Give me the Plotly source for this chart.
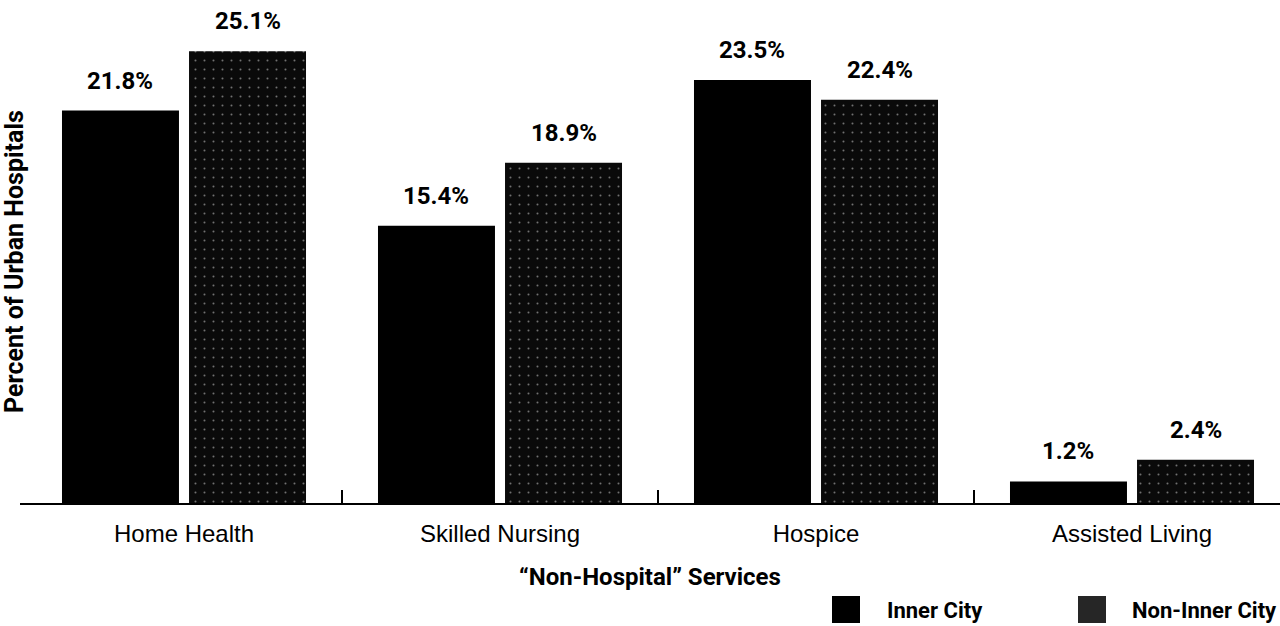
import plotly.graph_objects as go

# Share of urban hospitals offering each "non-hospital" service
categories = ["Home Health", "Skilled Nursing", "Hospice", "Assisted Living"]
inner_city = [21.8, 15.4, 23.5, 1.2]
non_inner_city = [25.1, 18.9, 22.4, 2.4]
series_names = ["Inner City", "Non-Inner City"]

W, H = 1280, 626
M_L, M_R, M_T, M_B = 20, 0, 20, 123
BARGAP = 0.196
BARGROUPGAP = 0.079

COND = "Roboto, Liberation Sans, sans-serif"
REGULAR = "Liberation Sans, Arial, Helvetica, sans-serif"


def cond_bold(size):
    return dict(family=COND, size=size, color="black", weight="bold")


x_idx = list(range(len(categories)))
slot = (1 - BARGAP) / 2          # width of one series slot, in category units
half = slot / 2                  # offset of each bar centre from the category centre

fig = go.Figure()
fig.add_trace(go.Bar(
    name=series_names[0], x=x_idx, y=inner_city,
    marker=dict(color="black", line=dict(width=0)),
    showlegend=False,
))
fig.add_trace(go.Bar(
    name=series_names[1], x=x_idx, y=non_inner_city,
    marker=dict(
        color="black", line=dict(width=0),
        pattern=dict(shape=".", bgcolor="#0a0a0a", fgcolor="#d8d8d8",
                     size=9, solidity=0.04),
    ),
    showlegend=False,
))

# value labels above each bar
for vals, sign in ((inner_city, -1), (non_inner_city, 1)):
    for i, v in enumerate(vals):
        fig.add_annotation(
            x=i + sign * half, y=v, text=f"{v:.1f}%",
            showarrow=False, yanchor="bottom", yshift=14,
            font=cond_bold(24),
        )

plot_w = W - M_L - M_R
plot_h = H - M_T - M_B


def px_x(p):
    return (p - M_L) / plot_w


def px_y(p):
    return (H - M_B - p) / plot_h


# hand-drawn legend below the plot, at bottom right
legend_items = [
    (series_names[0], "black", 832, 885),
    (series_names[1], "#262626", 1078, 1130),
]
for label, col, sx, tx in legend_items:
    fig.add_shape(
        type="rect", xref="paper", yref="paper",
        x0=px_x(sx), x1=px_x(sx + 28), y0=px_y(623), y1=px_y(596),
        fillcolor=col, line=dict(width=0),
    )
    fig.add_annotation(
        xref="paper", yref="paper", x=px_x(tx), y=px_y(610),
        xanchor="left", yanchor="middle", text=label, showarrow=False,
        font=cond_bold(22),
    )

cat_px = 316
span = plot_w / cat_px
x0 = -(184 - M_L) / cat_px

fig.update_layout(
    width=W, height=H,
    margin=dict(l=M_L, r=M_R, t=M_T, b=M_B),
    paper_bgcolor="white", plot_bgcolor="white",
    barmode="group", bargap=BARGAP, bargroupgap=BARGROUPGAP,
    showlegend=False,
    xaxis=dict(
        range=[x0, x0 + span],
        tickmode="array", tickvals=x_idx, ticktext=categories,
        ticks="", showgrid=False, zeroline=False,
        showline=True, linecolor="black", linewidth=2,
        tickfont=dict(family=REGULAR, size=24, color="black"),
        ticklabelstandoff=8,
        minor=dict(tickmode="array", tickvals=[0.5, 1.5, 2.5],
                   ticks="inside", ticklen=13, tickwidth=2, tickcolor="black",
                   showgrid=False),
        title=dict(text="\u201cNon-Hospital\u201d Services", standoff=22,
                   font=cond_bold(24)),
    ),
    yaxis=dict(
        range=[0, plot_h / 18.0],
        showticklabels=False, ticks="", showgrid=False, zeroline=False,
        showline=False,
        title=dict(text="Percent of Urban Hospitals", standoff=0,
                   font=cond_bold(25)),
    ),
)

fig.write_html("out.html")
